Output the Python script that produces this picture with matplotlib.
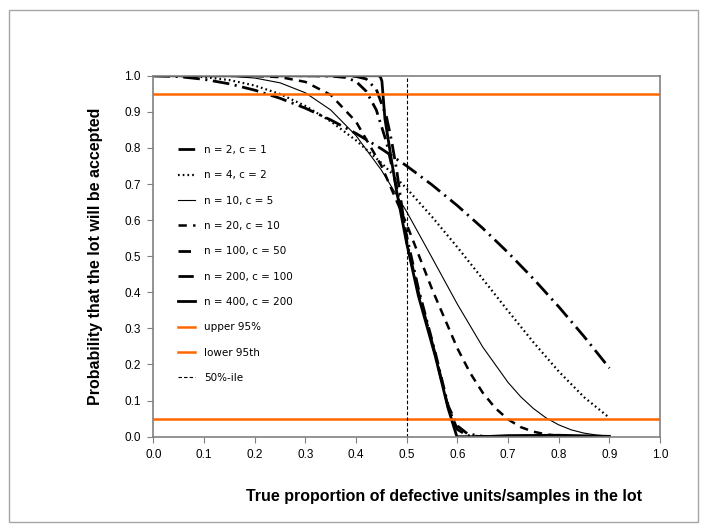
import matplotlib
matplotlib.use('Agg')
import matplotlib.pyplot as plt
from matplotlib.patches import Rectangle

plt.rcParams['font.family'] = ['Liberation Sans', 'DejaVu Sans']
plt.rcParams['lines.scale_dashes'] = False

# values (proportion defective -> probability of acceptance)
x_n2 = [0.0, 0.05, 0.1, 0.15, 0.2, 0.25, 0.3, 0.35, 0.4, 0.45, 0.5, 0.55, 0.6, 0.65, 0.7, 0.75, 0.8, 0.85, 0.9]
y_n2 = [1.0, 0.9975, 0.99, 0.9775, 0.96, 0.9375, 0.91, 0.8775, 0.84, 0.7975, 0.75, 0.6975, 0.64, 0.5775, 0.51,
        0.4375, 0.36, 0.2775, 0.19]

x_n4 = [0.0, 0.05, 0.1, 0.15, 0.2, 0.25, 0.3, 0.35, 0.4, 0.45, 0.5, 0.55, 0.6, 0.65, 0.7, 0.75, 0.8, 0.85, 0.9]
y_n4 = [1.0, 0.9995, 0.9963, 0.988, 0.9728, 0.9492, 0.9163, 0.8735, 0.8208, 0.7585, 0.6875, 0.609, 0.5248, 0.437,
        0.3483, 0.2617, 0.1808, 0.1095, 0.0523]

x_n10 = [0.0, 0.05, 0.1, 0.15, 0.2, 0.25, 0.3, 0.35, 0.4, 0.45, 0.5, 0.55, 0.6, 0.65, 0.7, 0.725, 0.75, 0.775,
         0.8, 0.825, 0.85, 0.875, 0.9]
y_n10 = [1.0, 1.0, 0.9999, 0.9986, 0.9936, 0.9803, 0.9527, 0.9051, 0.8338, 0.7384, 0.623, 0.4956, 0.3669, 0.2485,
         0.1503, 0.1106, 0.0781, 0.0521, 0.0328, 0.0188, 0.0099, 0.0045, 0.0016]

x_n20 = [0.0, 0.1, 0.2, 0.25, 0.3, 0.35, 0.4, 0.45, 0.5, 0.55, 0.6, 0.625, 0.65, 0.675, 0.7, 0.725, 0.75, 0.775,
         0.8, 0.85, 0.9]
y_n20 = [1.0, 1.0, 0.9994, 0.9961, 0.9829, 0.9468, 0.8725, 0.7507, 0.5881, 0.4086, 0.2447, 0.177, 0.1218, 0.079,
         0.048, 0.0265, 0.0139, 0.0063, 0.0026, 0.0002, 0.0]

x_n100 = [0.0, 0.3, 0.35, 0.38, 0.4, 0.42, 0.44, 0.46, 0.48, 0.5, 0.523, 0.556, 0.582, 0.6, 0.62, 0.65, 0.7, 0.9]
y_n100 = [1.0, 1.0, 0.999, 0.995, 0.984, 0.957, 0.905, 0.816, 0.69, 0.555, 0.41, 0.235, 0.085, 0.03, 0.008, 0.001,
          0.0, 0.0]

x_n200 = [0.0, 0.35, 0.38, 0.4, 0.42, 0.44, 0.46, 0.47, 0.48, 0.5, 0.523, 0.556, 0.582, 0.6, 0.62, 0.65, 0.9]
y_n200 = [1.0, 1.0, 1.0, 0.998, 0.991, 0.962, 0.886, 0.82, 0.74, 0.54, 0.4, 0.23, 0.08, 0.02, 0.003, 0.0, 0.0]

x_n400 = [0.0, 0.3, 0.4, 0.444, 0.448, 0.451, 0.457, 0.47, 0.48, 0.5, 0.523, 0.556, 0.582, 0.599, 0.65, 0.7, 0.8, 0.9]
y_n400 = [1.0, 1.0, 1.0, 1.0, 0.997, 0.985, 0.88, 0.765, 0.68, 0.535, 0.39, 0.225, 0.077, 0.0, 0.0, 0.003, 0.004,
          0.001]

upper_95 = 0.95
lower_95 = 0.05
median_x = 0.5

x_ticks = [0.0, 0.1, 0.2, 0.3, 0.4, 0.5, 0.6, 0.7, 0.8, 0.9, 1.0]
y_ticks = [0.0, 0.1, 0.2, 0.3, 0.4, 0.5, 0.6, 0.7, 0.8, 0.9, 1.0]

orange = '#ff6600'

fig = plt.figure(figsize=(7.07, 5.31), dpi=100)
ax = fig.add_axes([0.217, 0.1776, 0.7166, 0.6798])

# рамка области диаграммы, как в excel
fig.patches.append(Rectangle((9 / 707, 9 / 531), 689 / 707, 512 / 531, transform=fig.transFigure,
                             fill=False, edgecolor='#a6a6a6', linewidth=1.0))

ax.plot(x_n2, y_n2, color='black', linewidth=2.0, linestyle=(0, (12, 4, 1.5, 4)), label='n = 2, c = 1')
ax.plot(x_n4, y_n4, color='black', linewidth=1.6, linestyle=(0, (1.2, 2.2)), label='n = 4, c = 2')
ax.plot(x_n10, y_n10, color='black', linewidth=0.8, label='n = 10, c = 5')
ax.plot(x_n20, y_n20, color='black', linewidth=1.8, linestyle=(0, (6, 4.5)), label='n = 20, c = 10')
ax.plot(x_n100, y_n100, color='black', linewidth=2.0, linestyle=(0, (9, 4, 1.5, 4)), label='n = 100, c = 50')
ax.plot(x_n200, y_n200, color='black', linewidth=2.0, linestyle=(0, (11, 4, 1.5, 4)), label='n = 200, c = 100')
ax.plot(x_n400, y_n400, color='black', linewidth=2.0, label='n = 400, c = 200')

ax.plot([0.0, 1.0], [upper_95, upper_95], color=orange, linewidth=1.8, label='upper 95%')
ax.plot([0.0, 1.0], [lower_95, lower_95], color=orange, linewidth=1.8, label='lower 95th')
ax.plot([median_x, median_x], [0.0, 1.0], color='black', linewidth=0.8, linestyle=(0, (2.5, 1.5)),
        label='50%-ile')

ax.set_xlim(0, 1)
ax.set_ylim(0, 1)
ax.set_xticks(x_ticks)
ax.set_yticks(y_ticks)
ax.set_xticklabels(['%.1f' % v for v in x_ticks], fontsize=8.5)
ax.set_yticklabels(['%.1f' % v for v in y_ticks], fontsize=8.5)
ax.tick_params(direction='out', length=4, width=0.8, color='#808080', pad=5)

for side in ['left', 'right', 'top', 'bottom']:
    ax.spines[side].set_color('#808080')
    ax.spines[side].set_linewidth(1.2)

ax.set_ylabel('Probability that the lot will be accepted', fontsize=11.5, fontweight='bold')
ax.yaxis.set_label_coords(-0.1, 0.5)
ax.set_xlabel('True proportion of defective units/samples in the lot', fontsize=11.5, fontweight='bold')
ax.xaxis.set_label_coords(0.573, -0.145)

leg = ax.legend(loc='upper left', bbox_to_anchor=(0.048, 0.808), frameon=False,
                prop={'family': 'DejaVu Sans', 'size': 7.5},
                handlelength=1.7, handletextpad=0.8, labelspacing=1.47, borderpad=0, borderaxespad=0)

plt.savefig('out.png', dpi=100)
plt.close()
